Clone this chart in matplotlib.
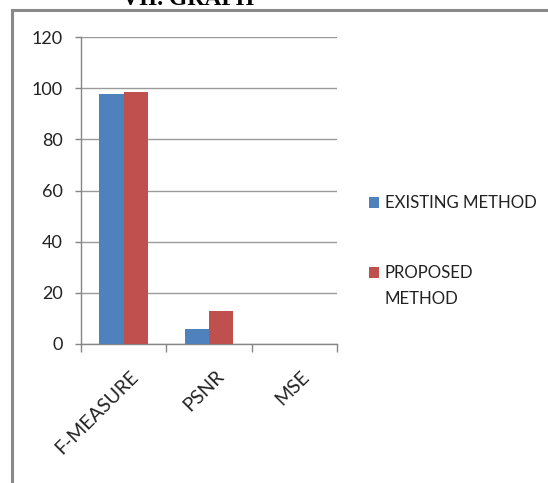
import matplotlib
matplotlib.use("Agg")
import matplotlib.pyplot as plt
import matplotlib.patches as patches
from matplotlib.lines import Line2D
import numpy as np

categories = ["F-MEASURE", "PSNR", "MSE"]
existing = [97.6, 6.0, 0.0]
proposed = [98.6, 13.0, 0.0]
series_names = ["EXISTING METHOD", "PROPOSED\nMETHOD"]
series_colors = ["#4F81BD", "#C0504D"]
y_ticks = [0, 20, 40, 60, 80, 100, 120]

W, H = 548, 483
fig = plt.figure(figsize=(W / 100, H / 100), dpi=100)
fig.patch.set_facecolor("white")

axis_grey = "#868686"
font = "Lato"

# page frame around the chart (top and left edges)
fig.add_artist(Line2D([11.5 / W, 1.0], [1 - 10 / H, 1 - 10 / H], color="#8a8a8a", lw=2.2))
fig.add_artist(Line2D([11.5 / W, 11.5 / W], [0.0, 1 - 10 / H], color="#8a8a8a", lw=2.2))

# section heading, mostly cut off at the top
fig.text(188 / W, 1 - 5 / H, "VII. GRAPH", ha="center", va="baseline",
         family="Liberation Serif", weight="bold", fontsize=17)

ax = fig.add_axes([81 / W, 1 - 344 / H, 256 / W, 307 / H])

x = np.arange(len(categories))
bw = 0.287
ax.bar(x - bw / 2, existing, bw, color=series_colors[0], zorder=3)
ax.bar(x + bw / 2, proposed, bw, color=series_colors[1], zorder=3)

ax.set_xlim(-0.5, len(categories) - 0.5)
ax.set_ylim(0, 120)
ax.set_yticks(y_ticks)
ax.set_yticklabels([str(v) for v in y_ticks], family=font, fontsize=13, color="#222222")
ax.yaxis.grid(True, color="#9a9a9a", lw=1.0, zorder=0)

ax.set_xticks(np.arange(len(categories) + 1) - 0.5)
ax.set_xticklabels([])
ax.set_xticks(x + 0.07, minor=True)
ax.set_xticklabels(categories, minor=True, rotation=45, ha="right", va="top",
                   rotation_mode="anchor", family=font, fontsize=14, color="#222222")
ax.tick_params(axis="x", which="major", direction="out", length=6, width=1, color=axis_grey)
ax.tick_params(axis="x", which="minor", length=0, pad=17)
ax.tick_params(axis="y", direction="out", length=4.3, width=1, color=axis_grey, pad=9)

for s in ["top", "right"]:
    ax.spines[s].set_visible(False)
for s in ["left", "bottom"]:
    ax.spines[s].set_color(axis_grey)
    ax.spines[s].set_linewidth(1.0)

# legend drawn beside the plot
legend_y = [202, 272]
for name, color, ly in zip(series_names, series_colors, legend_y):
    fig.add_artist(patches.Rectangle((369 / W, 1 - (ly + 5.5) / H), 10 / W, 11 / H,
                                     facecolor=color, edgecolor="none"))
    fig.text(385 / W, 1 - (ly - 7) / H, name, ha="left", va="top", family=font,
             fontsize=12.1, color="#222222", linespacing=1.75)

fig.savefig("out.png", dpi=100, facecolor="white")
